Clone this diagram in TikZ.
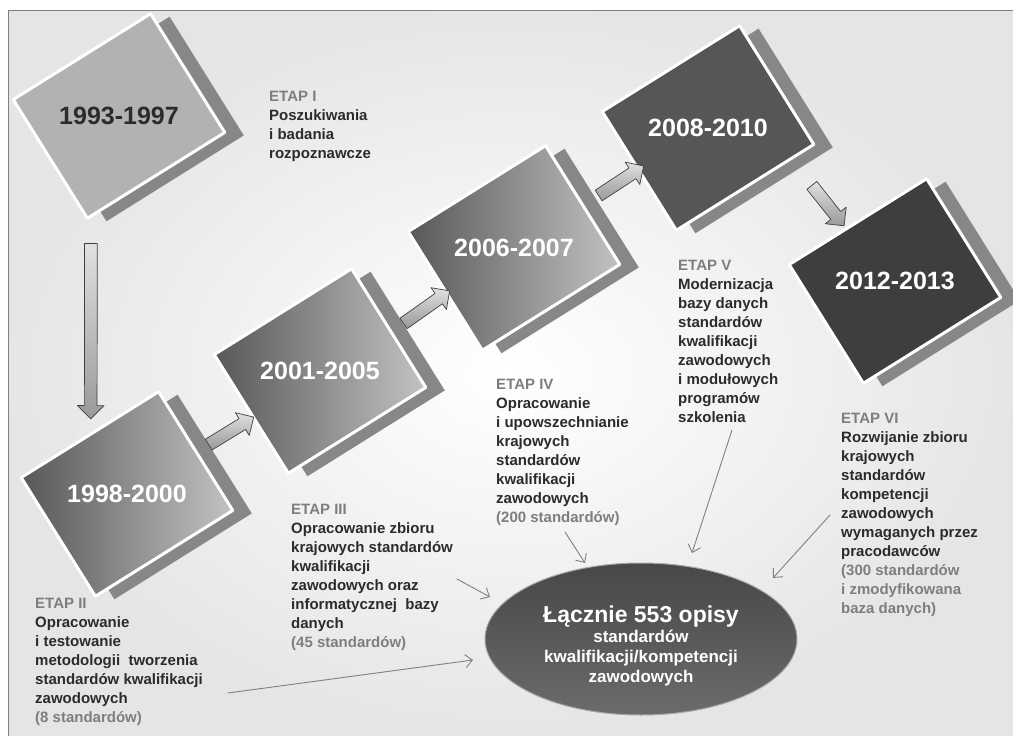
\documentclass[tikz,border=0pt]{standalone}
\usepackage{fontspec}
\setmainfont{Liberation Sans}
\usetikzlibrary{shapes.arrows,shapes.geometric,arrows.meta,calc}
\definecolor{szary}{HTML}{878787}
\definecolor{jasny}{HTML}{B2B2B2}
\definecolor{ciemny}{HTML}{565656}
\definecolor{grafit}{HTML}{3E3E3E}
\definecolor{gradA}{HTML}{585858}
\definecolor{gradB}{HTML}{C2C2C2}
\definecolor{tekst}{HTML}{2B2B2B}
\definecolor{etap}{HTML}{7E7E7E}
\definecolor{linia}{HTML}{808080}
\begin{document}
\begin{tikzpicture}[line join=round,line cap=round,x=1pt,y=-1pt]
	\tikzset{
		kwadrat/.style={draw=white,line width=3pt,rotate=32,minimum width=162pt,minimum height=140pt,inner sep=0pt},
		cien/.style={fill=szary,rotate=32,minimum width=162pt,minimum height=140pt,inner sep=0pt},
		przejscie/.style={left color=gradA,right color=gradB},
		rok/.style={font=\fontsize{25}{28}\selectfont\bfseries,text=white,inner sep=0pt},
		blok/.style={single arrow,draw=black!75,line width=0.7pt,top color=black!12,bottom color=black!40,single arrow head extend=7pt,inner sep=6pt,text height=0pt,text depth=0pt},
		opis/.style={anchor=north west,align=left,inner sep=0pt,text=tekst,font=\fontsize{15}{19}\selectfont\bfseries},
		suma/.style={ellipse,draw=black!35,line width=1pt,top color=black!72,bottom color=black!58,minimum width=312pt,minimum height=152pt},
		wskaz/.style={draw=linia,line width=0.9pt,-{Straight Barb[length=7pt,width=13pt]}},
		okres/.pic={
				\node[cien] at (19,3) {};
				\node[kwadrat] (-k) {};
				\node[rok] (-t) {#1};
		}
	}
	\useasboundingbox (0,0) rectangle (1013,736);
	\shade[inner color=white,outer color=black!10] (8,10) rectangle (1013,736);
	\draw[black!50,line width=1pt] (8,736) -- (8,10) -- (1013,10);

	\pic[kwadrat/.append style={fill=jasny},rok/.append style={text=tekst}] (s1) at (119,116) {okres=1993-1997};
	\pic[kwadrat/.append style=przejscie] (s2) at (127,494) {okres=1998-2000};
	\pic[kwadrat/.append style=przejscie] (s3) at (320,371) {okres=2001-2005};
	\pic[kwadrat/.append style=przejscie] (s4) at (514,248) {okres=2006-2007};
	\pic[kwadrat/.append style={fill=ciemny}] (s5) at (708,128) {okres=2008-2010};
	\pic[kwadrat/.append style={fill=grafit}] (s6) at (895,281) {okres=2012-2013};

	\coordinate (b1) at ($(s1-k.south west)+(4,20)$);
	\coordinate (c1) at ($(s2-k.north)+(1.6,-17.6)$);
	\coordinate (b2) at ($(s2-k.east)+(9,-4)$);
	\coordinate (c2) at ($(s3-k.west)+(1,4)$);
	\coordinate (b3) at ($(s3-k.east)+(11,-2)$);
	\coordinate (c3) at ($(s4-k.west)+(3,1)$);
	\coordinate (b4) at ($(s4-k.east)+(12,-7)$);
	\coordinate (c4) at ($(s5-k.west)+(3,-4)$);
	\coordinate (b5) at ($(s5-k.south east)+(-6,38)$);
	\coordinate (c5) at ($(s6-k.north)+(-15,3)$);
	\foreach \i in {1,...,5}
		\path let \p1=(b\i),\p2=(c\i),\n1={atan2(\y2-\y1,\x2-\x1)},\n2={veclen(\x2-\x1,\y2-\y1)} in
			node[blok,rotate=\n1,minimum height=\n2] (a\i) at ($(\p1)!.5!(\p2)$) {};

	\node[opis] (e1) at (269,91) {\textcolor{etap}{ETAP I}\\Poszukiwania\\i badania\\rozpoznawcze};
	\node[opis] (e2) at (35,598) {\textcolor{etap}{ETAP II}\\Opracowanie\\i testowanie\\metodologii~ tworzenia\\standardów kwalifikacji\\zawodowych\\\textcolor{etap}{(8 standardów)}};
	\node[opis] (e3) at (291,504) {\textcolor{etap}{ETAP III}\\Opracowanie zbioru\\krajowych standardów\\kwalifikacji\\zawodowych oraz\\informatycznej~ bazy\\danych\\\textcolor{etap}{(45 standardów)}};
	\node[opis] (e4) at (496,379) {\textcolor{etap}{ETAP IV}\\Opracowanie\\i upowszechnianie\\krajowych\\standardów\\kwalifikacji\\zawodowych\\\textcolor{etap}{(200 standardów)}};
	\node[opis] (e5) at (678,260) {\textcolor{etap}{ETAP V}\\Modernizacja\\bazy danych\\standardów\\kwalifikacji\\zawodowych\\i modułowych\\programów\\szkolenia};
	\node[opis] (e6) at (841,413) {\textcolor{etap}{ETAP VI}\\Rozwijanie zbioru\\krajowych\\standardów\\kompetencji\\zawodowych\\wymaganych przez\\pracodawców\\\textcolor{etap}{(300 standardów}\\\textcolor{etap}{i zmodyfikowana}\\\textcolor{etap}{baza danych)}};

	\node[suma] (suma) at (641,639) {};
	\node[align=center,text=white,font=\fontsize{17}{20}\selectfont\bfseries] (opisy) at (641,646) {{\fontsize{23}{26}\selectfont Łącznie 553 opisy}\\standardów\\kwalifikacji/kompetencji\\zawodowych};

	\coordinate (o2) at (228,693);
	\coordinate (o3) at (457,579);
	\coordinate (o4) at (565,532);
	\coordinate (o5) at (732,430);
	\coordinate (o6) at (830,515);
	\foreach \i/\dx/\dy in {2/-168/21,3/-151/-42,4/-56/-76,5/51/-86,6/132/-61}
		\draw[wskaz] (o\i) -- ($(suma.center)+(\dx,\dy)$);
\end{tikzpicture}
\end{document}
